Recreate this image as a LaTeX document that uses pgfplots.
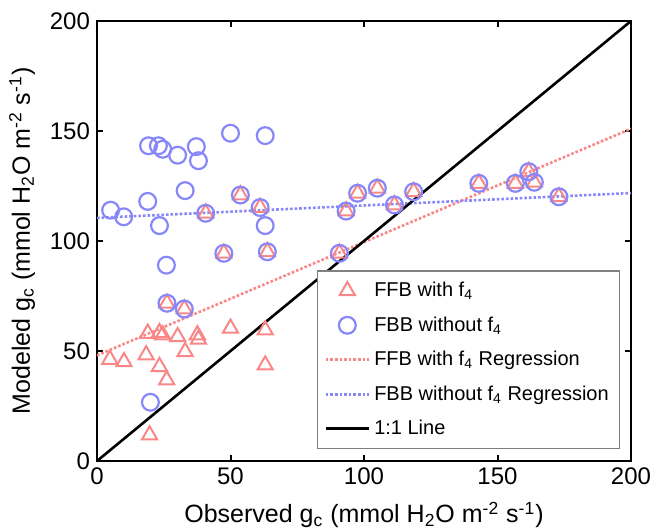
\documentclass[border=0pt]{standalone}
\usepackage{fontspec}
\setmainfont{Liberation Sans}
\usepackage{pgfplots}
\pgfplotsset{compat=1.18}
\definecolor{ffbred}{RGB}{250,135,135}
\definecolor{fbbblue}{RGB}{135,135,250}
\begin{document}
\begin{tikzpicture}
\begin{axis}[
scale only axis,
width=267pt, height=220pt,
xmin=0, xmax=200, ymin=0, ymax=200,
xtick={0,50,100,150,200}, ytick={0,50,100,150,200},
tick align=inside,
major tick length=3pt,
axis line style={line width=1.2pt},
every tick/.style={black, line width=1pt},
/pgf/number format/assume math mode=true,
tick label style={font=\fontsize{12}{14}\selectfont},
label style={font=\fontsize{12.5}{15}\selectfont},
xlabel={Observed g\textsubscript{c} (mmol H\textsubscript{2}O m\textsuperscript{-2} s\textsuperscript{-1})},
ylabel={Modeled g\textsubscript{c} (mmol H\textsubscript{2}O m\textsuperscript{-2} s\textsuperscript{-1})},
xlabel style={yshift=-1.5pt},
ylabel style={yshift=0.5pt},
legend style={at={(0.98,0.027)}, anchor=south east, draw=gray, line width=0.6pt,
  font=\fontsize{10}{12}\selectfont, row sep=4.5pt, inner sep=3.5pt,
  legend cell align=left},
legend image code/.code={
  \draw[mark repeat=2,mark phase=2] plot coordinates {(0cm,0cm) (0.38cm,0cm) (0.76cm,0cm)};},
]
% FFB with f4
\addplot[only marks, mark=triangle, mark size=4.4pt, color=ffbred, line width=1pt] coordinates {
(4.8,46.2) (10.1,45.1) (19,58) (18.4,48.2) (23.4,58.3) (24.6,57.3) (30.2,56.5)
(23.4,42.9) (26.1,36.8) (33,49.7) (37.6,57.3) (38,55.3) (50,60.3) (63,59.5)
(63,43.6) (19.7,11.8)
(26.2,71.7) (32.7,69.1) (40.7,112.6) (47.5,94.4) (53.7,120.9) (61.1,115.2)
(63.8,95.1) (90.8,94.4) (93.3,113.6) (97.6,121.7) (105,124) (111.4,116.4)
(118.6,122.4) (143,126.2) (156.7,126.2) (161.7,131.5) (163.8,126.7) (173,120.1)
};
\addlegendentry{FFB with f\textsubscript{4}}
% FBB without f4
\addplot[only marks, mark=o, mark size=4.2pt, color=fbbblue, line width=1.1pt] coordinates {
(5.1,114) (10,111) (19,118) (19.3,143.3) (23,143.3) (24.6,141.7) (30.2,139)
(37.2,142.9) (38,136.5) (50,149) (63,147.9) (33,122.9) (23.4,107) (63,107)
(26,89) (20,26.7)
(26.2,71.7) (32.7,69.1) (40.7,112.6) (47.5,94.4) (53.7,120.9) (61.1,115.2)
(63.8,95.1) (90.8,94.4) (93.3,113.6) (97.6,121.7) (105,124) (111.4,116.4)
(118.6,122.4) (143,126.2) (156.7,126.2) (161.7,131.5) (163.8,126.7) (173,120.1)
};
\addlegendentry{FBB without f\textsubscript{4}}
\addplot[color=ffbred, line width=1.3pt, densely dotted] coordinates {(0,48) (200,151)};
\addlegendentry{FFB with f\textsubscript{4} Regression}
\addplot[color=fbbblue, line width=1.3pt, densely dotted] coordinates {(0,110.5) (200,121.8)};
\addlegendentry{FBB without f\textsubscript{4} Regression\hspace{36pt}}
\addplot[color=black, line width=1.3pt] coordinates {(0,0) (200,200)};
\addlegendentry{1:1 Line}
\end{axis}
\pgfresetboundingbox
\path (current axis.south west) ++(-48.5pt,-34.5pt) coordinate (bbA)
      (current axis.north east) ++(11.5pt,10.5pt) coordinate (bbB);
\useasboundingbox (bbA) rectangle (bbB);
\end{tikzpicture}
\end{document}
